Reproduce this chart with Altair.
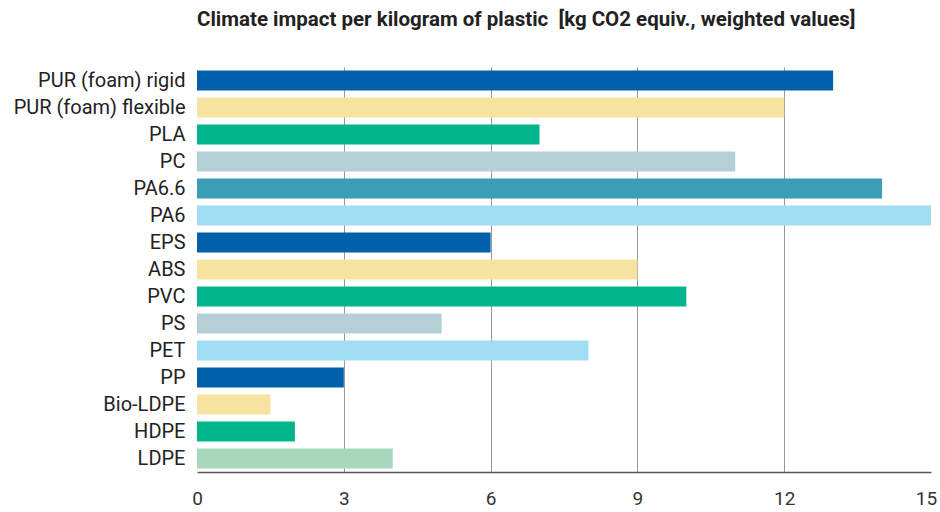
import altair as alt
import pandas as pd

materials = ["PUR (foam) rigid", "PUR (foam) flexible", "PLA", "PC", "PA6.6", "PA6",
             "EPS", "ABS", "PVC", "PS", "PET", "PP", "Bio-LDPE", "HDPE", "LDPE"]
values = [13, 12, 7, 11, 14, 15, 6, 9, 10, 5, 8, 3, 1.5, 2, 4]
colors = ["#0060AA", "#F7E3A0", "#00B48C", "#B5CFD6", "#3A9EB5", "#A0DCF2",
          "#0060AA", "#F7E3A0", "#00B48C", "#B5CFD6", "#A0DCF2", "#0060AA",
          "#F7E3A0", "#00B48C", "#A8D8BC"]
ticks = [0, 3, 6, 9, 12, 15]

df = pd.DataFrame({"material": materials, "value": values})

FONT = "Roboto"

chart = alt.Chart(df).mark_bar(size=20).encode(
    y=alt.Y("material:N", sort=materials, title=None,
            axis=alt.Axis(domain=False, ticks=False, labelPadding=12,
                          labelFontSize=20, labelColor="#222222", labelFont=FONT)),
    x=alt.X("value:Q", title=None,
            scale=alt.Scale(domain=[0, 15], nice=False),
            axis=alt.Axis(values=ticks, ticks=False, labelPadding=17, labelFlush=False,
                          labelOffset=alt.condition("datum.value == 15", alt.value(-5), alt.value(0)),
                          labelFontSize=19, labelColor="#333333", labelFont=FONT,
                          domainColor="#555555", domainWidth=1.5,
                          gridColor="#999999", gridWidth=1,
                          gridOpacity=alt.condition("datum.value == 0 || datum.value == 15",
                                                    alt.value(0), alt.value(1)))),
    color=alt.Color("material:N", scale=alt.Scale(domain=materials, range=colors), legend=None),
).properties(
    width=734, height=405,
    title=alt.Title("Climate impact per kilogram of plastic\u00a0 [kg CO2 equiv., weighted values]",
                    anchor="start", frame="group", font=FONT, fontSize=20.5, fontWeight="bold",
                    color="#222222", offset=37),
    autosize=alt.AutoSizeParams(type="none"),
    padding={"left": 197, "top": 67, "right": 9, "bottom": 40},
).configure_view(stroke=None)

chart.save("out.html", embed_options={"renderer": "svg", "actions": False})
